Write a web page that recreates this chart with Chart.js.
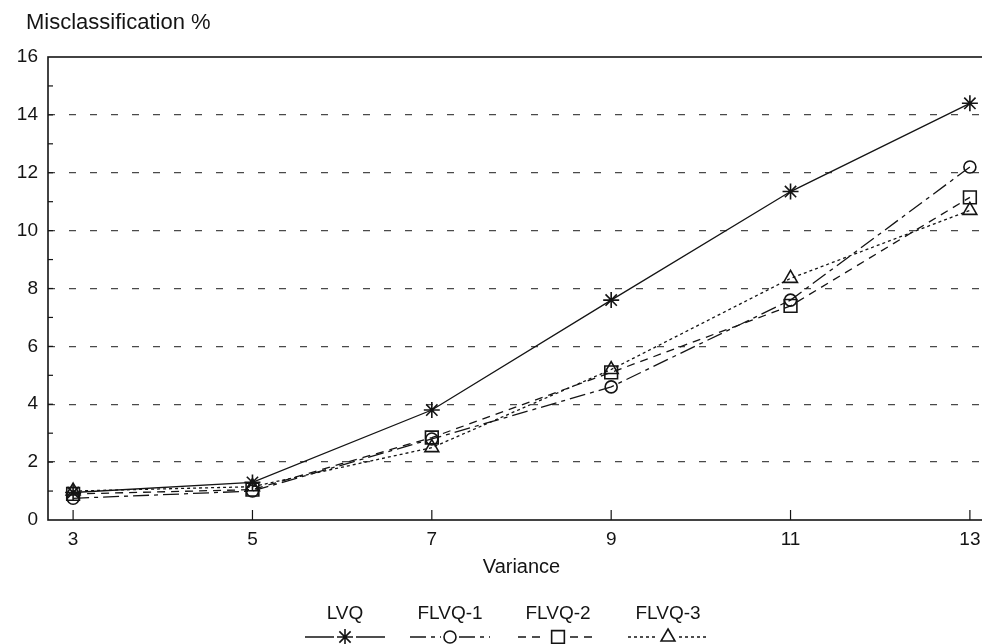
<!DOCTYPE html>
<html>
<head>
<meta charset="utf-8">
<script src="https://cdn.jsdelivr.net/npm/chart.js@4/dist/chart.umd.min.js"></script>
<style>
  html, body { margin: 0; padding: 0; background: #fff; overflow: hidden; }
  #wrap { width: 982px; height: 644px; overflow: hidden; }
</style>
</head>
<body>
<div id="wrap"><canvas id="misclass" width="1012" height="644"></canvas></div>
<script>
// Werte
var variance = [3, 5, 7, 9, 11, 13];
var lvq   = [0.95, 1.3, 3.8, 7.6, 11.35, 14.4];
var flvq1 = [0.75, 1.0, 2.8, 4.6, 7.6, 12.2];
var flvq2 = [0.9, 1.05, 2.85, 5.1, 7.4, 11.15];
var flvq3 = [1.0, 1.15, 2.5, 5.2, 8.35, 10.7];
var seriesNames = ['LVQ', 'FLVQ-1', 'FLVQ-2', 'FLVQ-3'];
var yLabels = [0, 2, 4, 6, 8, 10, 12, 14, 16];

var FONT = 'Liberation Sans, Arial, sans-serif';
var INK = '#141414';

function pts(vals) {
  var out = [];
  for (var i in variance) out.push({ x: variance[i], y: vals[i] });
  return out;
}

function makeSet(label, vals, style, dash, radius) {
  return {
    label: label,
    data: pts(vals),
    borderColor: INK,
    backgroundColor: 'rgba(0,0,0,0)',
    pointBorderColor: INK,
    pointBackgroundColor: 'rgba(0,0,0,0)',
    borderWidth: 1.3,
    borderDash: dash,
    pointStyle: style,
    pointRadius: radius,
    pointBorderWidth: 1.6,
    tension: 0
  };
}

var datasets = [
  makeSet(seriesNames[0], lvq, 'star', [], 8),
  makeSet(seriesNames[1], flvq1, 'circle', [16, 5, 4, 5], 6),
  makeSet(seriesNames[2], flvq2, 'rect', [8, 6], 9),
  makeSet(seriesNames[3], flvq3, 'triangle', [3, 3], 8)
];

// Rahmen, Innen-Ticks, Titel und Legende
var decor = {
  id: 'decor',
  afterDraw: function(chart) {
    var ctx = chart.ctx, a = chart.chartArea;
    var xs = chart.scales.x, ys = chart.scales.y;
    ctx.save();
    ctx.strokeStyle = INK;
    ctx.lineWidth = 1.6;
    ctx.setLineDash([]);
    ctx.strokeRect(a.left, a.top, a.right - a.left, a.bottom - a.top);

    ctx.lineWidth = 1.2;
    for (var i in variance) {
      var px = xs.getPixelForValue(variance[i]);
      ctx.beginPath(); ctx.moveTo(px, a.bottom); ctx.lineTo(px, a.bottom - 10); ctx.stroke();
    }
    for (var v = 1; v < 16; v++) {
      var py = ys.getPixelForValue(v);
      ctx.beginPath(); ctx.moveTo(a.left, py); ctx.lineTo(a.left + 5, py); ctx.stroke();
    }

    ctx.fillStyle = INK;
    ctx.font = '22px ' + FONT;
    ctx.textAlign = 'left';
    ctx.textBaseline = 'middle';
    ctx.fillText('Misclassification %', 26, 23);

    var centers = [345, 450, 558, 668];
    for (var k = 0; k < datasets.length; k++) {
      var d = datasets[k], cx = centers[k];
      ctx.textAlign = 'center';
      ctx.font = '19px ' + FONT;
      ctx.fillStyle = INK;
      ctx.fillText(d.label, cx, 614);
      ctx.lineWidth = 1.3;
      ctx.setLineDash(d.borderDash);
      ctx.beginPath(); ctx.moveTo(cx - 40, 637); ctx.lineTo(cx - d.pointRadius - 3, 637);
      ctx.moveTo(cx + d.pointRadius + 3, 637); ctx.lineTo(cx + 40, 637); ctx.stroke();
      ctx.setLineDash([]);
      ctx.lineWidth = 1.6;
      ctx.fillStyle = 'rgba(0,0,0,0)';
      Chart.helpers.drawPoint(ctx, { pointStyle: d.pointStyle, radius: d.pointRadius, rotation: 0, borderWidth: 1.6 }, cx, 637);
    }
    ctx.restore();
  }
};

new Chart(document.getElementById('misclass'), {
  type: 'line',
  data: { datasets: datasets },
  plugins: [decor],
  options: {
    responsive: false,
    animation: false,
    layout: { padding: { top: 57, right: 17, bottom: 0, left: 0 } },
    plugins: { legend: { display: false }, tooltip: { enabled: false } },
    scales: {
      x: {
        type: 'linear',
        min: 2.72,
        max: 13.28,
        afterBuildTicks: function(scale) {
          scale.ticks = variance.map(function(v) { return { value: v }; });
        },
        afterFit: function(scale) { scale.height = 124; },
        grid: { display: false, drawTicks: false },
        border: { display: false },
        ticks: { color: INK, font: { size: 19, family: FONT }, padding: 8, maxRotation: 0 },
        title: { display: true, text: 'Variance', color: INK, font: { size: 20, family: FONT }, padding: { top: 0, bottom: 65 } }
      },
      y: {
        min: 0,
        max: 16,
        afterFit: function(scale) { scale.width = 48; },
        afterBuildTicks: function(scale) {
          var t = [];
          for (var v = 0; v <= 16; v++) t.push({ value: v });
          scale.ticks = t;
        },
        grid: {
          drawTicks: false,
          color: function(c) {
            var v = c.tick ? c.tick.value : 0;
            return (v > 0 && v < 16 && v % 2 === 0) ? '#4a4a4a' : 'rgba(0,0,0,0)';
          },
          lineWidth: 1.3
        },
        border: { display: false, dash: [7, 14] },
        ticks: {
          color: INK,
          font: { size: 19, family: FONT },
          padding: 10,
          autoSkip: false,
          callback: function(v) { return yLabels.indexOf(v) >= 0 ? String(v) : ''; }
        }
      }
    }
  }
});
</script>
</body>
</html>
